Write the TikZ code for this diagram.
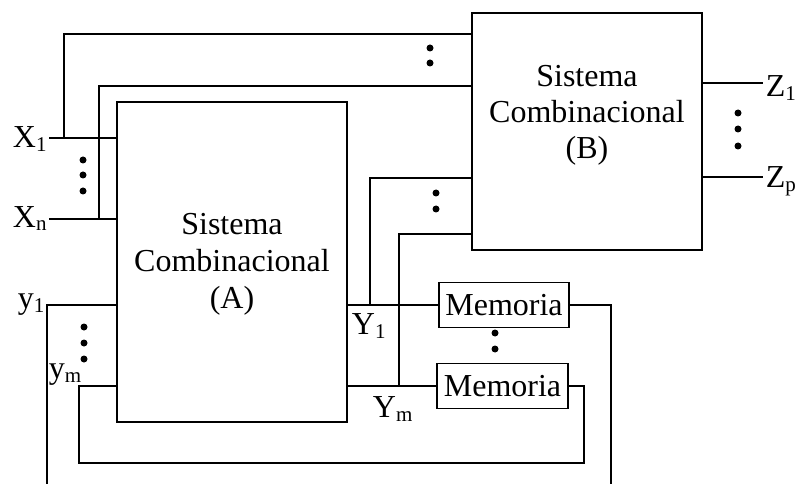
\documentclass[tikz,border=0pt]{standalone}
\usepackage{fontspec}
\setmainfont{Liberation Serif}
\newcommand\lsub[1]{\raisebox{-4pt}{\fontsize{21}{22}\selectfont #1}}
\begin{document}
\begin{tikzpicture}[x=1pt,y=-1pt, line width=1.8pt,
  combox/.style={draw, line width=1.8pt, inner sep=0pt, minimum width=230pt},
  membox/.style={draw, line width=1.8pt, inner sep=0pt, minimum height=45pt, font=\fontsize{32}{36}\selectfont},
  boxtext/.style={align=center, inner sep=0pt, font=\fontsize{32}{37}\selectfont},
  lbl/.style={inner sep=0pt, anchor=base west, font=\fontsize{32}{36}\selectfont}]
\useasboundingbox (0,0) rectangle (804,484);
% boxes
\node[combox, minimum height=320pt] (A) at (232,262) {};
\node[combox, minimum height=237pt] (B) at (587,131.5) {};
\node[boxtext] (Atxt) at (232,264) {Sistema\\Combinacional\\(A)};
\node[boxtext, font=\fontsize{32}{36}\selectfont] (Btxt) at (587,115) {Sistema\\Combinacional\\(B)};
\node[membox, minimum width=130pt] (M1) at (504,305) {Memoria};
\node[membox, minimum width=131pt] (M2) at (502.5,386) {Memoria};
% coordinates
\coordinate (x1) at (49,138);
\coordinate (xn) at (49,219);
\coordinate (j1) at (64,138);
\coordinate (t1) at (64,34);
\coordinate (jn) at (99,219);
\coordinate (tn) at (99,86);
\coordinate (k1) at (370,305);
\coordinate (b1) at (370,178);
\coordinate (km) at (399,386);
\coordinate (bm) at (399,234);
\coordinate (yb) at (47,484);
\coordinate (yt) at (47,305);
\coordinate (r2) at (584,463);
\coordinate (l2) at (79,463);
\coordinate (r1) at (611,484);
\coordinate (z1) at (763,83);
\coordinate (zp) at (763,177);
% wires
\draw (x1) -- (x1 -| A.west);
\draw (xn) -- (xn -| A.west);
\draw (j1) -- (t1) -- (t1 -| B.west);
\draw (jn) -- (tn) -- (tn -| B.west);
\draw (A.east |- M1.west) -- (M1.west);
\draw (A.east |- M2.west) -- (M2.west);
\draw (k1) -- (b1) -- (b1 -| B.west);
\draw (km) -- (bm) -- (bm -| B.west);
\draw (yb) -- (yt) -- (yt -| A.west);
\draw (M2.east) -| (r2) -- (l2) |- (A.west |- M2.west);
\draw (M1.east) -| (r1);
\draw (z1 -| B.east) -- (z1);
\draw (zp -| B.east) -- (zp);
% dots
\foreach \p in {(83,160),(83,175),(83,191),(84,327),(84,343),(84,359),(430,48),(430,63),(436,193),(436,209),(738,113),(738,129),(738,146),(495,333),(495,349)}
  \fill \p circle (3.5pt);
% labels
\node[lbl] (X1) at (12,148) {X\lsub{1}};
\node[lbl] (Xn) at (12,227) {X\lsub{n}};
\node[lbl] (ly1) at (17,308) {y\lsub{1}};
\node[lbl] (lym) at (48,378) {y\lsub{m}};
\node[lbl] (Y1) at (351,334) {Y\lsub{1}};
\node[lbl] (Ym) at (372,417) {Y\lsub{m}};
\node[lbl] (Z1) at (765,97) {Z\lsub{1}};
\node[lbl] (Zp) at (765,188) {Z\lsub{p}};
\end{tikzpicture}
\end{document}
